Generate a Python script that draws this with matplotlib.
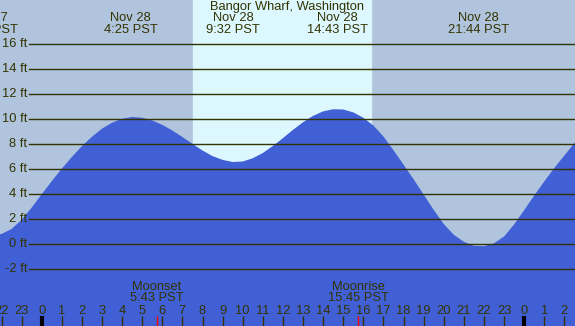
import matplotlib
matplotlib.use("Agg")
import matplotlib.pyplot as plt

plt.rcParams['font.family'] = ['Liberation Sans', 'DejaVu Sans']

# Tide heights (ft), hours relative to midnight Nov 28
hours = [-2.5, -2.0, -1.5, -1.0, -0.5, 0.0, 0.5, 1.0, 1.5, 2.0, 2.5, 3.0, 3.5, 4.0,
         4.5, 5.0, 5.5, 6.0, 6.5, 7.0, 7.5, 8.0, 8.5, 9.0, 9.5, 10.0, 10.5, 11.0,
         11.5, 12.0, 12.5, 13.0, 13.5, 14.0, 14.5, 15.0, 15.5, 16.0, 16.5, 17.0,
         17.5, 18.0, 18.5, 19.0, 19.5, 20.0, 20.5, 21.0, 21.5, 22.0, 22.5, 23.0,
         23.5, 24.0, 24.5, 25.0, 25.5, 26.0, 26.5, 27.0]
heights = [0.70, 0.82, 1.22, 1.95, 2.93, 4.0, 5.05, 6.05, 6.98, 7.85, 8.6, 9.25, 9.72, 10.04,
           10.18, 10.12, 9.9, 9.55, 9.1, 8.58, 8.03, 7.5, 7.05, 6.75, 6.58, 6.62, 6.88, 7.3,
           7.86, 8.49, 9.15, 9.76, 10.27, 10.63, 10.8, 10.78, 10.55, 10.12, 9.5, 8.62,
           7.52, 6.37, 5.2, 3.98, 2.75, 1.62, 0.76, 0.2, -0.13, -0.16, 0.08, 0.62,
           1.58, 2.72, 3.9, 5.02, 6.1, 7.1, 8.08, 8.98]

ft_levels = [-2, 0, 2, 4, 6, 8, 10, 12, 14, 16]
hour_ticks = list(range(-2, 27))
hour_labels = [str(h % 24) for h in hour_ticks]

extreme_times = [-2.70, 4.42, 9.53, 14.72, 21.73]
extreme_labels = [("Nov 27", "21:38 PST"), ("Nov 28", "4:25 PST"), ("Nov 28", "9:32 PST"),
                  ("Nov 28", "14:43 PST"), ("Nov 28", "21:44 PST")]
sunrise, sunset = 7.53, 16.38
moon_events = [(5.72, "Moonset", "5:43 PST"), (15.75, "Moonrise", "15:45 PST")]

night = "#b0c4de"
day = "#ddf7ff"
water = "#4160d6"
ink = "#333300"

fig = plt.figure(figsize=(5.75, 3.26), dpi=100)
ax = fig.add_axes([0, 0, 1, 1])
x0, x1 = -2.075, 26.53
y0, y1 = -6.54, 19.54
ax.set_xlim(x0, x1)
ax.set_ylim(y0, y1)
ax.axis('off')
fig.patch.set_facecolor(night)
ax.axvspan(x0, x1, color=night, zorder=0)
ax.axvspan(sunrise, sunset, color=day, zorder=0.5)

ax.fill_between(hours, heights, y0, color=water, zorder=1, linewidth=0)

fs = 9.3
xl = -0.63
for f in ft_levels:
    ax.plot([xl, x1], [f, f], color=ink, lw=1.0, zorder=2)
    ax.text(xl - 0.1, f, f"{f} ft", ha='right', va='center', fontsize=fs, color=ink, zorder=3)

ax.text(12.2, 19.0, "Bangor Wharf, Washington", ha='center', va='center', fontsize=fs, color=ink)
for t, (d, tm) in zip(extreme_times, extreme_labels):
    ax.text(t, 18.1, d, ha='center', va='center', fontsize=fs, color=ink)
    ax.text(t, 17.15, tm, ha='center', va='center', fontsize=fs, color=ink)

for h, lab in zip(hour_ticks, hour_labels):
    ax.text(h, -5.35, lab, ha='center', va='center', fontsize=fs, color=ink)
    if h % 24 == 0:
        ax.plot([h, h], [-5.75, y0], color='black', lw=3, solid_capstyle='butt', zorder=3)
    else:
        ax.plot([h, h], [-5.75, y0], color=ink, lw=1, solid_capstyle='butt', zorder=3)

for t, name, tm in moon_events:
    ax.text(t, -3.4, name, ha='center', va='center', fontsize=fs, color=ink)
    ax.text(t, -4.3, tm, ha='center', va='center', fontsize=fs, color=ink)
    ax.plot([t, t], [-5.75, y0], color='red', lw=1, solid_capstyle='butt', zorder=3)

fig.savefig("out.png", dpi=100, facecolor=night)
